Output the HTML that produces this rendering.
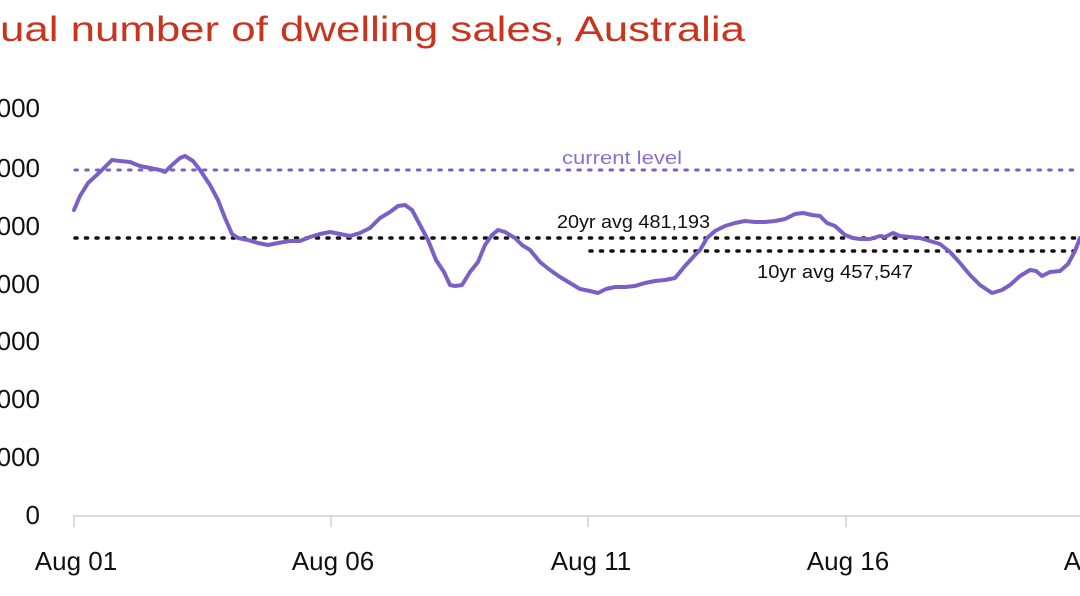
<!DOCTYPE html>
<html><head><meta charset="utf-8"><style>html,body{margin:0;padding:0;background:#fff;overflow:hidden}svg{display:block}</style></head>
<body>
<svg width="1080" height="596" viewBox="0 0 1080 596" xmlns="http://www.w3.org/2000/svg" font-family="Liberation Sans, sans-serif">
<text x="0" y="41" font-size="35" fill="#c9341f" textLength="745" lengthAdjust="spacingAndGlyphs">ual number of dwelling sales, Australia</text>
<g font-size="26" fill="#111" text-anchor="end">
<text x="40" y="117">700,000</text>
<text x="40" y="177">600,000</text>
<text x="40" y="235">500,000</text>
<text x="40" y="293">400,000</text>
<text x="40" y="350">300,000</text>
<text x="40" y="408">200,000</text>
<text x="40" y="466">100,000</text>
<text x="40" y="524">0</text>
</g>
<line x1="73" y1="516" x2="1080" y2="516" stroke="#d0d0d0" stroke-width="1.5"/>
<g stroke="#d0d0d0" stroke-width="1.5">
<line x1="74" y1="516" x2="74" y2="527"/><line x1="331" y1="516" x2="331" y2="527"/><line x1="588" y1="516" x2="588" y2="527"/><line x1="846" y1="516" x2="846" y2="527"/>
</g>
<g font-size="26" fill="#111" text-anchor="middle">
<text x="76" y="570">Aug 01</text><text x="333" y="570">Aug 06</text><text x="591" y="570">Aug 11</text><text x="848" y="570">Aug 16</text><text x="1105" y="570">Aug 21</text>
</g>
<line x1="75" y1="170" x2="1080" y2="170" stroke="#7b5fc7" stroke-width="3" stroke-dasharray="2.5 8.2" stroke-linecap="round"/>
<line x1="75" y1="238" x2="1080" y2="238" stroke="#111" stroke-width="3.5" stroke-dasharray="2 8.5" stroke-linecap="round"/>
<line x1="590" y1="251" x2="1080" y2="251" stroke="#111" stroke-width="3.5" stroke-dasharray="2 8.5" stroke-linecap="round"/>
<text x="562" y="164" font-size="18" fill="#8a6fd0" textLength="120" lengthAdjust="spacingAndGlyphs">current level</text>
<text x="557" y="228" font-size="18" fill="#111" textLength="153" lengthAdjust="spacingAndGlyphs">20yr avg 481,193</text>
<text x="757" y="278" font-size="18" fill="#111" textLength="156" lengthAdjust="spacingAndGlyphs">10yr avg 457,547</text>
<polyline fill="none" stroke="#7b5fc7" stroke-width="4" stroke-linejoin="round" stroke-linecap="round" points="74,210 80,196 88,183 100,172 112,160 120,161 130,162 140,166 150,168 160,170 165,172 172,165 180,158 185,156 193,161 200,170 210,185 218,200 225,218 232,234 238,238 248,240 258,243 268,245 278,243 290,241 300,241 310,237 320,234 330,232 340,234 350,236 360,233 370,228 380,218 390,212 398,206 405,205 412,210 420,225 428,240 436,260 444,272 450,285 455,286 462,285 470,272 478,262 485,245 492,235 498,230 505,232 515,238 522,245 530,250 540,262 550,270 560,277 570,283 580,289 590,291 598,293 606,289 615,287 625,287 635,286 645,283 655,281 665,280 675,278 685,266 695,255 700,250 707,238 715,231 725,226 735,223 745,221 755,222 765,222 775,221 785,219 795,214 803,213 812,215 820,216 827,223 835,226 845,235 853,238 860,239 870,239 880,236 885,237 893,233 900,236 910,237 920,238 930,241 940,244 950,252 960,263 970,275 980,285 992,293 1002,290 1010,285 1020,276 1030,270 1036,271 1042,276 1050,272 1060,271 1068,264 1075,251 1080,238"/>
</svg>
</body></html>
